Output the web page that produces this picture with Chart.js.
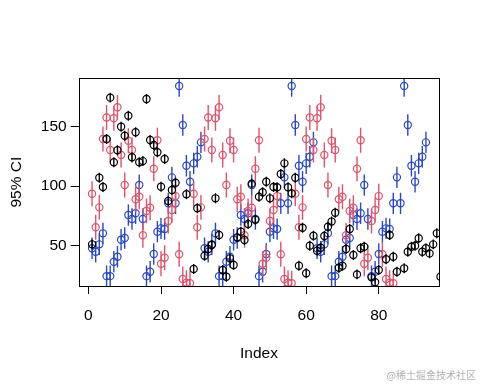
<!DOCTYPE html>
<html><head><meta charset="utf-8">
<script src="https://cdn.jsdelivr.net/npm/chart.js@4"></script>
<style>html,body{margin:0;padding:0;background:#fff;}canvas{display:block}</style>
</head><body>
<canvas id="c" width="480" height="384"></canvas>
<script>
// ---- data (index = position in each array, starting at 1) ----
const blueValues = [
  47.5, 44.6, 50.8, 60.1, 24, 24, 36.2, 40.4, 54.7, 56.2, 75.5, 72.2, 77, 100.8, 72.2, 24, 27.7, 42.7, 61.5, 64.3, 63.7, 85.4, 107.3, 85.4, 184.3, 151.4, 117.1, 103.6, 119.1, 124.7, 136.8,
  47.5, 44.6, 50.8, 60.1, 24, 24, 36.2, 40.4, 54.7, 56.2, 75.5, 72.2, 77, 100.8, 72.2, 24, 27.7, 42.7, 61.5, 64.3, 63.7, 85.4, 107.3, 85.4, 184.3, 151.4, 117.1, 103.6, 119.1, 124.7, 136.8,
  47.5, 44.6, 50.8, 60.1, 24, 24, 36.2, 40.4, 54.7, 56.2, 75.5, 72.2, 77, 100.8, 72.2, 24, 27.7, 42.7, 61.5, 64.3, 63.7, 85.4, 107.3, 85.4, 184.3, 151.4, 117.1, 103.6, 119.1, 124.7, 136.8
];
const pinkValues = [
  93.5, 65.2, 82, 139.6, 157.8, 130.4, 157.1, 166.4, 126.1, 100.8, 138.1, 130.4, 88.8, 91, 58.5, 79, 81.7, 114.5, 138.6, 34.5, 39.5, 70.5, 79.8, 91.5, 42.5, 21.6, 18.5, 18,
  93.5, 65.2, 82, 139.6, 157.8, 130.4, 157.1, 166.4, 126.1, 100.8, 138.1, 130.4, 88.8, 91, 58.5, 79, 81.7, 114.5, 138.6, 34.5, 39.5, 70.5, 79.8, 91.5, 42.5, 21.6, 18.5, 18,
  93.5, 65.2, 82, 139.6, 157.8, 130.4, 157.1, 166.4, 126.1, 100.8, 138.1, 130.4, 88.8, 91, 58.5, 79, 81.7, 114.5, 138.6, 34.5, 39.5, 70.5, 79.8, 91.5, 42.5, 21.6, 18.5, 18
];
const blackValues = [
  50.8, null, 107, 99.2, 139.6, 174.5, 120, 130.1, 150, 142.4,
  159.3, 124.2, 145.3, 120, 121, 173.4, 138.8, 134.6, 128.4, 99.4,
  122.8, 87.4, 96.6, 102.8, null, null, 93, null, 30, 81.2,
  null, 41.2, 46.9, 50.3, 89.6, 58.7, 29.2, 23.5, 39, 33.4,
  56.7, 61.5, 54.5, 68, 102, 71.6, 91, 94.7, 103.6, 89.6,
  99.2, 98.9, 110.1, 119.1, 98.9, 93.8, 107, 32.8, 64.8, 26.4,
  49.7, 58.1, 45.4, 48, 57.8, 65.7, 70, 77.5, 31.1, 32.8,
  46.9, 63.7, 41.8, 25.5, 47.5, 48.8, null, 23, 18.8, 29.2,
  null, 38.2, 58.7, 40.4, 27.7, null, 30.6, 44.6, 48.8, 49.7,
  55.9, 44.6, 47.5, 43.2, 50.8, 60.1, 23.5
];
const blueHalfCI = 9;
const pinkHalfCI = 10.5;
const blackHalfCI = 4.2;
const xTickValues = [0, 20, 40, 60, 80];
const yTickValues = [50, 100, 150];
const xTitle = 'Index';
const yTitle = '95% CI';
const watermark = '@稀土掘金技术社区';

const BLUE = '#2A48C4', PINK = '#DF536B', BLACK = '#000000';
const FONT = '"Liberation Sans", Arial, sans-serif';

function pts(vals) { return vals.map((v, i) => ({x: i + 1, y: v})); }
function bars(vals, h) {
  const out = [];
  vals.forEach((v, i) => {
    if (v === null) return;
    out.push({x: i + 1, y: v - h}, {x: i + 1, y: v + h}, {x: i + 1, y: null});
  });
  return out;
}
function markerSet(vals, col) {
  return {type: 'scatter', data: pts(vals), borderColor: col, backgroundColor: 'rgba(0,0,0,0)',
    pointStyle: 'circle', pointRadius: 3.6, pointBorderWidth: 1.2, showLine: false, clip: 0};
}
function barSet(vals, h, col) {
  return {type: 'line', data: bars(vals, h), borderColor: col, borderWidth: 1.4, pointRadius: 0,
    showLine: true, spanGaps: false, fill: false, tension: 0, clip: 0};
}

const frame = {
  id: 'frame',
  afterDraw(chart) {
    const {ctx, chartArea: a} = chart;
    ctx.save();
    ctx.strokeStyle = '#000'; ctx.lineWidth = 1;
    ctx.strokeRect(Math.round(a.left) + 0.5, Math.round(a.top) + 0.5,
      Math.round(a.right) - Math.round(a.left), Math.round(a.bottom) - Math.round(a.top));
    ctx.fillStyle = '#000';
    ctx.font = '15.5px ' + FONT;
    ctx.textAlign = 'center'; ctx.textBaseline = 'middle';
    ctx.fillText(xTitle, (a.left + a.right) / 2, 354);
    ctx.save();
    ctx.translate(17, (a.top + a.bottom) / 2);
    ctx.rotate(-Math.PI / 2);
    ctx.fillText(yTitle, 0, 0);
    ctx.restore();
    ctx.fillStyle = 'rgba(150,150,150,0.75)';
    ctx.font = '10px "Noto Sans CJK SC", sans-serif';
    ctx.textAlign = 'right';
    ctx.fillText(watermark, 476, 375);
    ctx.restore();
  }
};

new Chart(document.getElementById('c'), {
  data: {
    datasets: [
      markerSet(blackValues, BLACK), barSet(blackValues, blackHalfCI, BLACK),
      markerSet(pinkValues, PINK), barSet(pinkValues, pinkHalfCI, PINK),
      markerSet(blueValues, BLUE), barSet(blueValues, blueHalfCI, BLUE)
    ]
  },
  options: {
    responsive: false, animation: false, devicePixelRatio: 1,
    layout: {padding: {left: 0, top: 78.3, right: 40.7, bottom: 0}},
    plugins: {legend: {display: false}, tooltip: {enabled: false}},
    scales: {
      x: {
        type: 'linear', position: 'bottom', min: -2.68, max: 96.68,
        afterBuildTicks: s => { s.ticks = xTickValues.map(v => ({value: v})); },
        afterFit: s => { s.height = 98; },
        grid: {drawOnChartArea: false, drawTicks: true, tickLength: 8, color: '#000', tickWidth: 1},
        border: {display: false},
        ticks: {color: '#000', font: {family: FONT, size: 15.5}, padding: 12, maxRotation: 0, autoSkip: false}
      },
      y: {
        type: 'linear', position: 'left', min: 15.7, max: 190.8,
        afterBuildTicks: s => { s.ticks = yTickValues.map(v => ({value: v})); },
        afterFit: s => { s.width = 78.7; },
        grid: {drawOnChartArea: false, drawTicks: true, tickLength: 8, color: '#000', tickWidth: 1},
        border: {display: false},
        ticks: {color: '#000', font: {family: FONT, size: 15.5}, padding: 4, autoSkip: false}
      }
    }
  },
  plugins: [frame]
});
</script>
</body></html>
